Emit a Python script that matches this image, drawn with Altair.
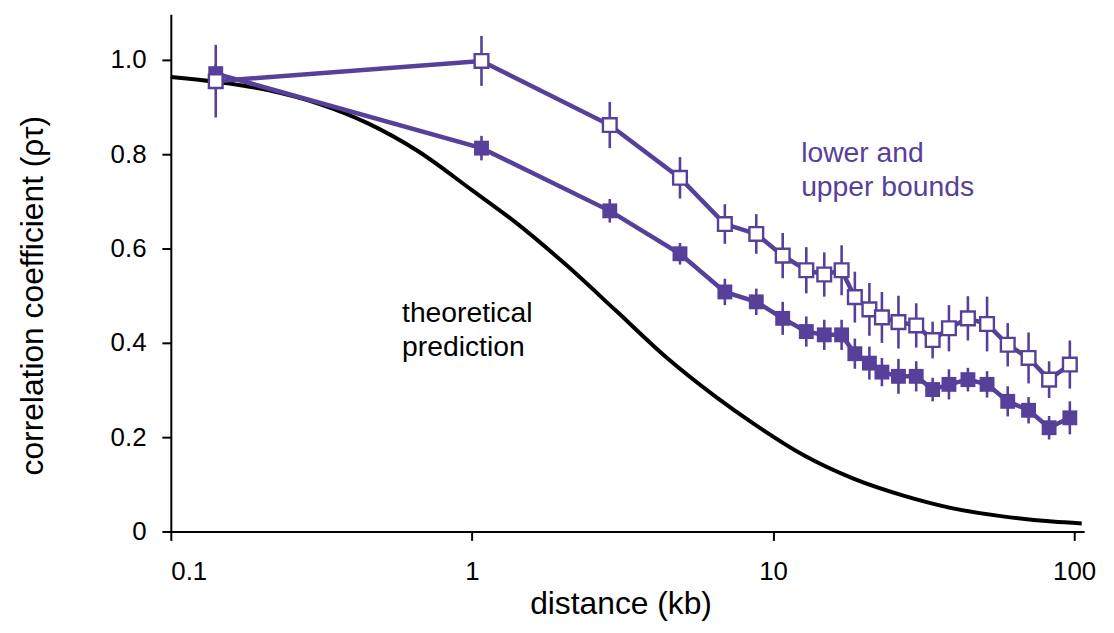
import altair as alt
import pandas as pd

# distances (kb) of the measured points
dist = [0.141, 1.076, 2.87, 4.91, 6.92, 8.8, 10.77, 12.9, 14.8, 16.9, 18.7, 20.9,
        23.0, 26.1, 29.9, 33.9, 38.4, 44.4, 51.4, 60.2, 70.6, 82.6, 96.8]
# upper bound (open squares)
upper = [0.955, 0.998, 0.862, 0.750, 0.652, 0.631, 0.585, 0.554, 0.545, 0.554, 0.497, 0.471,
         0.454, 0.444, 0.437, 0.406, 0.431, 0.452, 0.440, 0.396, 0.368, 0.322, 0.354]
upper_err = [0.077, 0.053, 0.049, 0.044, 0.042, 0.042, 0.048, 0.049, 0.047, 0.053, 0.054, 0.056,
             0.054, 0.056, 0.047, 0.039, 0.049, 0.047, 0.058, 0.046, 0.054, 0.039, 0.051]
# lower bound (filled squares)
lower = [0.971, 0.813, 0.680, 0.589, 0.508, 0.487, 0.452, 0.424, 0.417, 0.417, 0.377, 0.357,
         0.338, 0.329, 0.329, 0.301, 0.312, 0.322, 0.312, 0.276, 0.257, 0.220, 0.241]
lower_err = [0.020, 0.026, 0.025, 0.023, 0.028, 0.028, 0.035, 0.032, 0.032, 0.032, 0.032, 0.035,
             0.030, 0.037, 0.032, 0.025, 0.032, 0.025, 0.028, 0.032, 0.028, 0.025, 0.035]

# theoretical prediction curve
theory_x = [0.1, 0.21, 0.307, 0.45, 0.657, 1.0, 1.4, 2.05, 3.0, 4.39, 6.41, 8.69,
            12.7, 18.5, 27.1, 39.6, 57.9, 84.7, 106]
theory_y = [0.964, 0.936, 0.908, 0.866, 0.808, 0.724, 0.655, 0.566, 0.469, 0.371, 0.287, 0.227,
            0.161, 0.112, 0.076, 0.049, 0.032, 0.021, 0.017]

x_ticks = [0.1, 1, 10, 100]
y_ticks = [0, 0.2, 0.4, 0.6, 0.8, 1.0]

PURPLE = "#56409a"

up_df = pd.DataFrame({"x": dist, "y": upper,
                      "lo": [v - e for v, e in zip(upper, upper_err)],
                      "hi": [v + e for v, e in zip(upper, upper_err)]})
lo_df = pd.DataFrame({"x": dist, "y": lower,
                      "lo": [v - e for v, e in zip(lower, lower_err)],
                      "hi": [v + e for v, e in zip(lower, lower_err)]})
th_df = pd.DataFrame({"x": theory_x, "y": theory_y})

X = alt.X("x:Q", scale=alt.Scale(type="log", domain=[0.1, 108], nice=False),
          axis=alt.Axis(values=x_ticks, labelExpr="format(datum.value, '~g')",
                        title="distance (kb)", labelPadding=18,
                        titleX=453, titleY=58, titleBaseline="top"))
Y = alt.Y("y:Q", scale=alt.Scale(domain=[0, 1.097], nice=False, zero=False),
          axis=alt.Axis(values=y_ticks,
                        labelExpr="datum.value == 0 ? '0' : format(datum.value, '.1f')",
                        title="correlation coefficient (ρτ)", labelPadding=16,
                        titleX=-139, titleY=283, titleBaseline="middle", titleAngle=-90))

theory = alt.Chart(th_df).mark_line(color="black", strokeWidth=4, interpolate="monotone").encode(x=X, y=Y)
up_line = alt.Chart(up_df).mark_line(color=PURPLE, strokeWidth=4.5).encode(x=X, y=Y)
lo_line = alt.Chart(lo_df).mark_line(color=PURPLE, strokeWidth=4.5).encode(x=X, y=Y)
up_err = alt.Chart(up_df).mark_rule(color=PURPLE, strokeWidth=2.6).encode(x=X, y=alt.Y("lo:Q"), y2="hi:Q")
lo_err = alt.Chart(lo_df).mark_rule(color=PURPLE, strokeWidth=2.6).encode(x=X, y=alt.Y("lo:Q"), y2="hi:Q")
lo_pts = alt.Chart(lo_df).mark_square(color=PURPLE, filled=True, size=225, opacity=1).encode(x=X, y=Y)
up_pts = alt.Chart(up_df).mark_square(fill="white", stroke=PURPLE, strokeWidth=2.4, filled=False,
                                      size=190, opacity=1, fillOpacity=1).encode(x=X, y=Y)

notes_theory = alt.Chart(pd.DataFrame({"x": [0.586], "y": [0.444], "t": [["theoretical", "prediction"]]})).mark_text(
    align="left", baseline="alphabetic", fontSize=28.5, font="Liberation Sans", color="black", lineHeight=34
).encode(x=X, y=Y, text="t")
notes_bounds = alt.Chart(pd.DataFrame({"x": [12.4], "y": [0.783], "t": [["lower and", "upper bounds"]]})).mark_text(
    align="left", baseline="alphabetic", fontSize=28.5, font="Liberation Sans", color=PURPLE, lineHeight=34
).encode(x=X, y=Y, text="t")

chart = alt.layer(theory, up_line, lo_line, up_err, lo_err, lo_pts, up_pts, notes_theory, notes_bounds).properties(
    width=920, height=521,
    autosize=alt.AutoSizeParams(type="none"),
    padding={"left": 164, "top": 4, "right": 22, "bottom": 100},
).configure_view(stroke=None).configure_axis(
    grid=False, domainColor="black", domainWidth=2, tickColor="black", tickWidth=2, tickSize=9,
    labelColor="black", labelFont="Liberation Sans", labelFontSize=26,
    titleColor="black", titleFont="Liberation Sans", titleFontSize=32, titleFontWeight="normal",
)

chart.save("out.html", embed_options={"renderer": "svg", "actions": False})
